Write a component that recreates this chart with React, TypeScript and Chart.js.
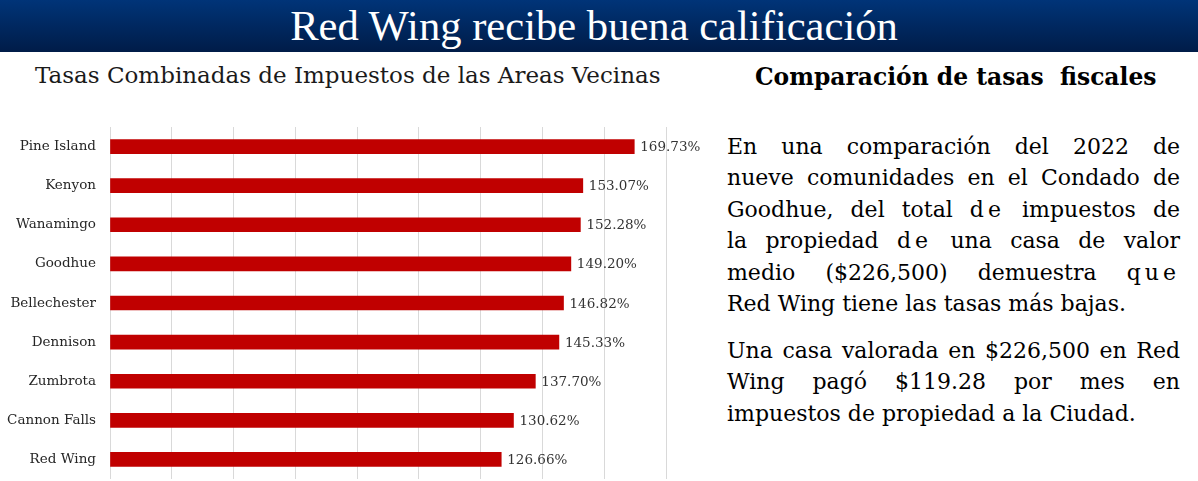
import React, { useEffect, useRef } from "react";
import { Chart, registerables } from "chart.js";

Chart.register(...registerables);

// ---- Data ----
const categories = [
  "Pine Island",
  "Kenyon",
  "Wanamingo",
  "Goodhue",
  "Bellechester",
  "Dennison",
  "Zumbrota",
  "Cannon Falls",
  "Red Wing",
];
const rates = [169.73, 153.07, 152.28, 149.2, 146.82, 145.33, 137.7, 130.62, 126.66];
const axisMin = 0;
const axisMax = 180;
const axisStep = 20;

const headerTitle = "Red Wing recibe buena calificación";
const chartTitle = "Tasas Combinadas de Impuestos de las Areas Vecinas";
const sideTitle = "Comparación de tasas  fiscales";

const SERIF = "'DejaVu Serif', serif";

const valueLabels = {
  id: "valueLabels",
  afterDatasetsDraw(chart: any) {
    const ctx = chart.ctx;
    const meta = chart.getDatasetMeta(0);
    const data = chart.data.datasets[0].data as number[];
    ctx.save();
    ctx.font = "13.5px 'DejaVu Serif'";
    ctx.fillStyle = "#333333";
    ctx.textAlign = "left";
    ctx.textBaseline = "middle";
    meta.data.forEach((el: any, i: number) => {
      ctx.fillText(data[i].toFixed(2) + "%", el.x + 6, el.y + 1);
    });
    ctx.restore();
  },
};

function BarChart() {
  const ref = useRef<HTMLCanvasElement | null>(null);
  useEffect(() => {
    if (!ref.current) return;
    const chart = new Chart(ref.current, {
      type: "bar",
      data: {
        labels: categories,
        datasets: [
          {
            data: rates,
            backgroundColor: "#C00000",
            borderWidth: 0,
            barThickness: 14,
          },
        ],
      },
      options: {
        indexAxis: "y",
        animation: false,
        responsive: false,
        maintainAspectRatio: false,
        devicePixelRatio: 1,
        layout: { padding: { top: 27, right: 54, bottom: 2, left: 0 } },
        plugins: {
          legend: { display: false },
          title: { display: false },
          tooltip: { enabled: false },
        },
        scales: {
          x: {
            min: axisMin,
            max: axisMax,
            ticks: { display: false, stepSize: axisStep },
            grid: { color: "#d9d9d9", lineWidth: 1, drawTicks: false },
            border: { display: false },
            afterFit(scale: any) {
              scale.height = 0;
              scale.paddingLeft = 0;
              scale.paddingRight = 0;
            },
          },
          y: {
            ticks: {
              color: "#262626",
              font: { family: "DejaVu Serif", size: 13.5 },
              padding: 14,
            },
            grid: { display: false, drawTicks: false },
            border: { display: false },
            afterFit(scale: any) {
              scale.width = 110;
              scale.paddingTop = 0;
              scale.paddingBottom = 0;
            },
          },
        },
      },
      plugins: [valueLabels],
    } as any);
    return () => chart.destroy();
  }, []);
  return (
    <canvas
      ref={ref}
      width={720}
      height={381}
      style={{ position: "absolute", left: 0, top: 100, width: 720, height: 381 }}
    />
  );
}

const spaced = (w: string) => (
  <span style={{ letterSpacing: "4px" }}>{w}</span>
);

const lineStyle = (last: boolean): React.CSSProperties => ({
  textAlign: last ? "left" : "justify",
  textAlignLast: last ? "left" : "justify",
  whiteSpace: "nowrap",
});

export default function App() {
  return (
    <div
      style={{
        position: "fixed",
        left: 0,
        top: 0,
        width: 1198,
        height: 481,
        background: "#ffffff",
        overflow: "hidden",
      }}
    >
      <div
        style={{
          position: "absolute",
          left: 0,
          top: 0,
          width: 1188,
          height: 52,
          paddingRight: 10,
          background: "linear-gradient(#003478, #001c48)",
          color: "#ffffff",
          fontFamily: "'Liberation Serif', serif",
          fontSize: 42.6,
          lineHeight: "52px",
          textAlign: "center",
        }}
      >
        {headerTitle}
      </div>

      <div
        style={{
          position: "absolute",
          left: 35,
          top: 62,
          fontFamily: SERIF,
          fontSize: 23,
          color: "#1a1a1a",
          whiteSpace: "nowrap",
        }}
      >
        {chartTitle}
      </div>

      <BarChart />

      <div
        style={{
          position: "absolute",
          left: 755,
          top: 63,
          fontFamily: SERIF,
          fontSize: 23.4,
          fontWeight: "bold",
          color: "#000000",
          whiteSpace: "pre",
        }}
      >
        {sideTitle}
      </div>

      <div
        style={{
          position: "absolute",
          left: 727,
          top: 131,
          width: 453,
          fontFamily: SERIF,
          fontSize: 22,
          lineHeight: "31.4px",
          color: "#000000",
        }}
      >
        <div style={lineStyle(false)}>En una comparación del 2022 de</div>
        <div style={lineStyle(false)}>nueve comunidades en el Condado de</div>
        <div style={lineStyle(false)}>
          Goodhue, del total {spaced("de")} impuestos de
        </div>
        <div style={lineStyle(false)}>
          la propiedad {spaced("de")} una casa de valor
        </div>
        <div style={lineStyle(false)}>
          medio ($226,500) demuestra {spaced("que")}
        </div>
        <div style={lineStyle(true)}>Red Wing tiene las tasas más bajas.</div>
      </div>

      <div
        style={{
          position: "absolute",
          left: 727,
          top: 335,
          width: 453,
          fontFamily: SERIF,
          fontSize: 22,
          lineHeight: "31.4px",
          color: "#000000",
        }}
      >
        <div style={lineStyle(false)}>Una casa valorada en $226,500 en Red</div>
        <div style={lineStyle(false)}>Wing pagó $119.28 por mes en</div>
        <div style={lineStyle(true)}>impuestos de propiedad a la Ciudad.</div>
      </div>
    </div>
  );
}
